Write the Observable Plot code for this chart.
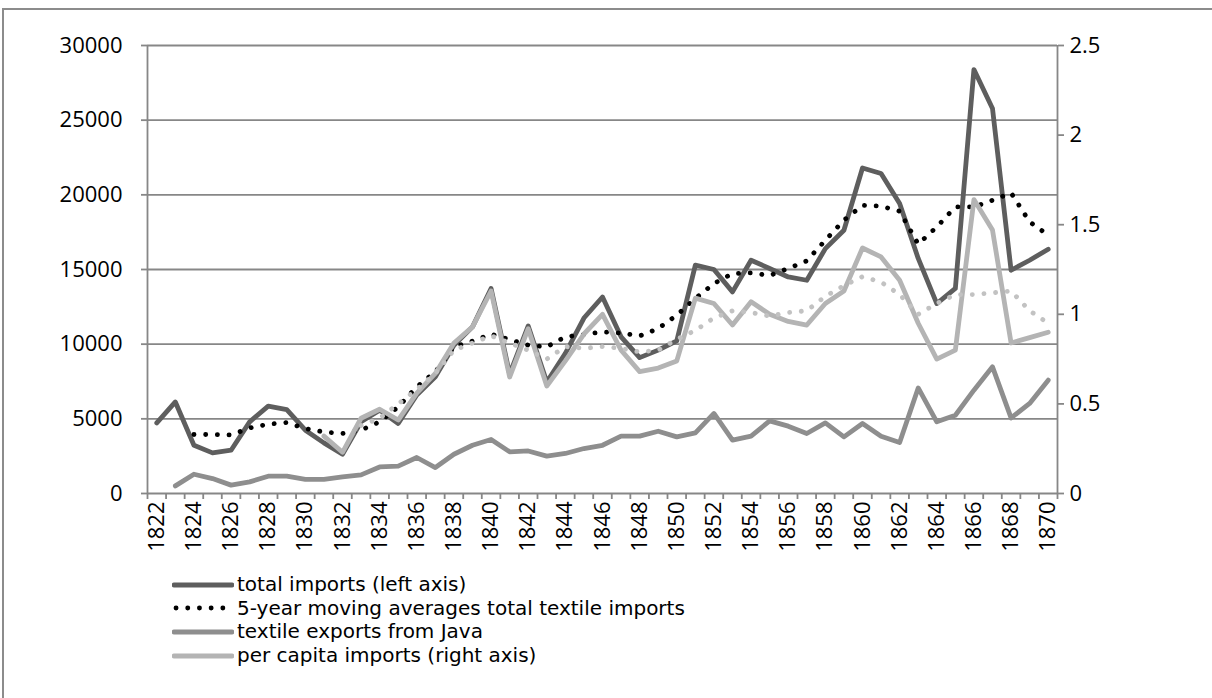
<!DOCTYPE html>
<html><head><meta charset="utf-8">
<script src="https://cdn.jsdelivr.net/npm/d3@7"></script>
<script src="https://cdn.jsdelivr.net/npm/@observablehq/plot@0.6"></script>
<style>
body{margin:0;background:#fff;font-family:"Open Sans",sans-serif;}
#wrap{position:relative;width:1212px;height:698px;overflow:hidden;background:#fff;}
#border{position:absolute;left:2px;top:8px;width:1230px;height:720px;border-left:2px solid #8c8c8c;border-top:2px solid #8c8c8c;}
#chart{position:absolute;left:0;top:0;}
#legend{position:absolute;left:172px;top:573px;font-family:"DejaVu Sans",sans-serif;font-size:20px;color:#000;}
.row{display:flex;align-items:center;height:23.6px;white-space:nowrap;}
.row svg{margin-right:3px;display:block;}
.row span{line-height:23px;}
</style></head>
<body>
<div id="wrap"><div id="border"></div><div id="chart"></div><div id="legend"></div></div>
<script>
const years = [1822,1823,1824,1825,1826,1827,1828,1829,1830,1831,1832,1833,1834,1835,1836,1837,1838,1839,1840,1841,1842,1843,1844,1845,1846,1847,1848,1849,1850,1851,1852,1853,1854,1855,1856,1857,1858,1859,1860,1861,1862,1863,1864,1865,1866,1867,1868,1869,1870];
const totalImports = [4730,6130,3230,2720,2900,4800,5850,5620,4240,3390,
  2630,4800,5580,4690,6600,7810,9930,11160,13730,8000,
  11220,7470,9380,11750,13160,10490,9100,9600,10220,15290,
  15000,13500,15620,15070,14500,14280,16400,17630,21800,21430,
  19420,15740,12720,13730,28390,25780,14950,15620,16360];
const movingAvg = [null,null,3950,3950,3920,4390,4640,4750,4350,4120,
  4020,4240,4800,5800,7140,8140,9820,10200,10670,10310,
  9930,9820,10490,10650,10820,10750,10550,11050,11940,13060,
  14060,14730,14770,14600,15070,15580,16960,18300,19300,19240,
  18900,16700,17850,19190,19190,19640,20130,18190,17300];
const javaExports = [null,510,1290,1000,560,780,1160,1160,940,940,
  1110,1250,1780,1830,2410,1740,2630,3230,3620,2790,
  2850,2500,2680,3010,3230,3840,3840,4170,3790,4060,
  5360,3570,3840,4860,4510,4020,4730,3790,4690,3840,
  3410,7070,4800,5240,6920,8480,5060,6030,7590];
const perCapita = [null,null,null,null,null,null,null,null,null,0.32,
  0.23,0.42,0.47,0.41,0.56,0.67,0.84,0.93,1.13,0.65,
  0.92,0.60,0.74,0.89,1.00,0.80,0.68,0.70,0.74,1.09,
  1.06,0.94,1.07,1.00,0.96,0.94,1.06,1.13,1.37,1.32,
  1.19,0.95,0.75,0.80,1.64,1.47,0.84,0.87,0.90];
const perCapitaAvg = [null,null,null,null,null,null,null,null,null,null,
  null,0.38,0.42,0.50,0.58,0.67,0.80,0.84,0.88,0.84,
  0.80,0.75,0.82,0.81,0.82,0.81,0.79,0.80,0.86,0.91,
  0.98,1.02,1.01,0.99,1.01,1.02,1.10,1.16,1.21,1.18,
  1.11,1.00,1.06,1.11,1.11,1.12,1.13,1.02,0.95];
const leftTicks = [0,5000,10000,15000,20000,25000,30000];
const rightTicks = [0,0.5,1,1.5,2,2.5];
const seriesNames = ["total imports (left axis)","5-year moving averages total textile imports","textile exports from Java","per capita imports (right axis)"];

const ratio = leftTicks[leftTicks.length-1] / rightTicks[rightTicks.length-1];
const rows = years.map((year,i)=>({year,total:totalImports[i],ma:movingAvg[i],java:javaExports[i],
  pc: perCapita[i]==null?null:perCapita[i]*ratio, pca: perCapitaAvg[i]==null?null:perCapitaAvg[i]*ratio}));
const boundaries = years.map(y=>y-0.5).concat([years[years.length-1]+0.5]);
const labelYears = years.filter(y=>y%2===0);

const C = {total:"#5e5e5e", ma:"#000000", java:"#8e8e8e", pc:"#b4b4b4", pca:"#c2c2c2", grid:"#878787"};
const W = 4.8, DASH = "0.1 11.6";

const chart = Plot.plot({
  width:1212, height:565, marginTop:45, marginBottom:72, marginLeft:147, marginRight:155,
  style:{fontFamily:"'Open Sans', sans-serif", fontSize:"22px", color:"#000", background:"transparent", overflow:"visible"},
  x:{type:"linear", domain:[boundaries[0], boundaries[boundaries.length-1]]},
  y:{domain:[leftTicks[0], leftTicks[leftTicks.length-1]]},
  marks:[
    Plot.gridY({ticks:leftTicks, stroke:C.grid, strokeOpacity:1, strokeWidth:1.8}),
    Plot.ruleX([boundaries[0], boundaries[boundaries.length-1]], {stroke:C.grid, strokeWidth:1.8}),
    Plot.axisY({ticks:leftTicks, anchor:"left", tickSize:6, tickPadding:19, tickFormat:d=>String(d), label:null, stroke:C.grid, strokeWidth:1.8}),
    Plot.axisY({ticks:rightTicks.map(t=>t*ratio), anchor:"right", tickSize:6, tickPadding:6, tickFormat:d=>String(d/ratio), label:null, stroke:C.grid, strokeWidth:1.8}),
    Plot.axisX({ticks:boundaries, anchor:"bottom", tickSize:6, tickFormat:()=>"", label:null, stroke:C.grid, strokeWidth:1.8}),
    Plot.axisX({ticks:labelYears, anchor:"bottom", tickSize:0, tickRotate:-90, tickPadding:8, tickFormat:d=>String(d), label:null}),
    Plot.lineY(rows, {x:"year", y:"total", stroke:C.total, strokeWidth:W, strokeLinejoin:"round"}),
    Plot.lineY(rows, {x:"year", y:"ma", stroke:C.ma, strokeWidth:W, strokeDasharray:DASH, strokeLinecap:"round"}),
    Plot.lineY(rows, {x:"year", y:"java", stroke:C.java, strokeWidth:W, strokeLinejoin:"round"}),
    Plot.lineY(rows, {x:"year", y:"pc", stroke:C.pc, strokeWidth:W, strokeLinejoin:"round"}),
    Plot.lineY(rows, {x:"year", y:"pca", stroke:C.pca, strokeWidth:W, strokeDasharray:DASH, strokeLinecap:"round"})
  ]
});
document.getElementById("chart").appendChild(chart);

const legendStyles = [
  {stroke:C.total, dash:null},
  {stroke:C.ma, dash:DASH},
  {stroke:C.java, dash:null},
  {stroke:C.pc, dash:null}
];
const legend = document.getElementById("legend");
seriesNames.forEach((name,i)=>{
  const row = document.createElement("div"); row.className="row";
  const st = legendStyles[i];
  const s = `<svg width="62" height="10"><line x1="${st.dash?4:2}" y1="5" x2="60" y2="5" stroke="${st.stroke}" stroke-width="${W}" ${st.dash?`stroke-dasharray="${st.dash}" stroke-linecap="round"`:'stroke-linecap="round"'}/></svg>`;
  row.innerHTML = s + `<span>${name}</span>`;
  legend.appendChild(row);
});
</script>
</body></html>
